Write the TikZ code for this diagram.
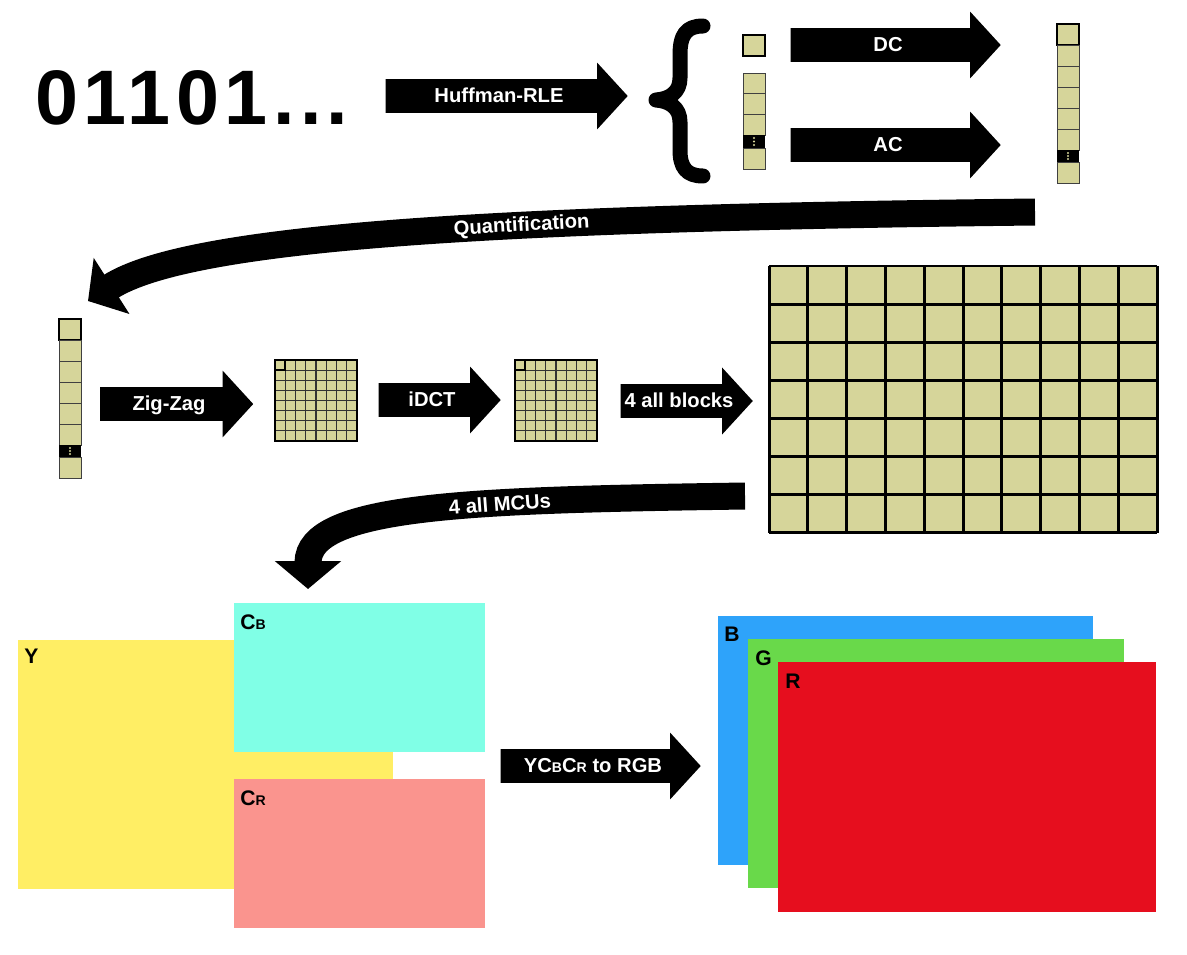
\documentclass[tikz,border=0pt]{standalone}
\usepackage{fontspec}
\setmainfont{Liberation Sans}
\usetikzlibrary{arrows.meta,shapes.arrows}
\definecolor{coefftan}{RGB}{214,213,154}
\definecolor{lumayellow}{RGB}{255,238,100}
\definecolor{cbcyan}{RGB}{128,255,230}
\definecolor{crsalmon}{RGB}{250,148,142}
\definecolor{chanblue}{RGB}{46,163,250}
\definecolor{changreen}{RGB}{105,217,74}
\definecolor{chanred}{RGB}{230,14,30}
\newcommand{\arrowfont}{\bfseries\fontsize{11.5}{13}\selectfont}
\newcommand{\smallidx}[1]{{\fontsize{8}{8}\selectfont #1}}

% column of coefficients: #1 = left x, #2 = top y (in px units)
\newcommand{\coeffcol}[2]{%
  \draw[black,line width=1.3pt,fill=coefftan] (#1,#2) rectangle ++(22,21);
  \foreach \k in {0,...,4}
    \draw[cellline,fill=coefftan] (#1,{#2+21+21*\k}) rectangle ++(22,21);
  \fill[black] (#1,{#2+126}) rectangle ++(22,12);
  \foreach \d in {3,6,9}
    \fill[coefftan] ({#1+11},{#2+126+\d}) circle (0.7pt);
  \draw[cellline,fill=coefftan] (#1,{#2+138}) rectangle ++(22,21);
}
% 8x8 block: #1 = left x, #2 = top y
\newcommand{\blockgrid}[2]{%
  \fill[coefftan] (#1,#2) rectangle ++(82,81);
  \foreach \k in {1,...,7}{%
    \draw[gridline] ({#1+10.25*\k},#2) -- ++(0,81);
    \draw[gridline] (#1,{#2+10.125*\k}) -- ++(82,0);
  }
  \draw[black,line width=1.6pt] (#1,#2) rectangle ++(82,81);
  \draw[black,line width=0.9pt] (#1,#2) rectangle ++(10.25,10.125);
}

\begin{document}
\begin{tikzpicture}[x=0.02cm,y=-0.02cm,>=Stealth,
  blockarrow/.style={single arrow,fill=black,text=white,font=\arrowfont,
    text height=0.3cm,text depth=0.06cm,inner ysep=0.15cm,inner xsep=2pt,
    single arrow head extend=0.33cm,single arrow tip angle=95},
  curvearrow/.style={line width=0.54cm,-{Triangle[width=1.3cm,length=0.56cm]}},
  curvelabel/.style={text=white,font=\arrowfont,inner sep=1pt},
  cellline/.style={black!75,line width=0.5pt},
  gridline/.style={black!80,line width=0.6pt},
  planelabel/.style={anchor=west,font=\bfseries\fontsize{12}{14}\selectfont,inner sep=0pt}]

\useasboundingbox (0,0) rectangle (1187,954);

%% ── bit stream and entropy decoding ─────────────────────────────────────────
\node[font=\bfseries\fontsize{44}{48}\selectfont\addfontfeature{LetterSpace=7}]
  (bits) at (192,98) {01101...};
\node[blockarrow,minimum height=4.84cm] (huff) at (499,96) {Huffman-RLE};

% curly brace
\draw[line width=0.3cm,line cap=round,line join=round]
  (703,26) .. controls (686,26) and (680,35) .. (680,55) -- (680,78)
  .. controls (680,92) and (670,99) .. (656,100)
  .. controls (670,101) and (680,108) .. (680,122) -- (680,150)
  .. controls (680,167) and (686,176) .. (703,176);

% DC coefficient and AC column
\draw[black,line width=1.3pt,fill=coefftan] (743,35) rectangle ++(22,21);
\foreach \k in {0,1,2}
  \draw[cellline,fill=coefftan] (743,{73+20.7*\k}) rectangle ++(22,20.7);
\fill[black] (743,135) rectangle ++(22,13);
\foreach \d in {3,6.5,10}
  \fill[coefftan] (754,{135+\d}) circle (0.7pt);
\draw[cellline,fill=coefftan] (743,148) rectangle ++(22,21);

\node[blockarrow,minimum height=4.2cm] (dc) at (888,45) {DC};
\node[blockarrow,minimum height=4.2cm] (ac) at (888,145) {AC};

% merged coefficient vector
\coeffcol{1057}{24}

%% ── dequantisation ──────────────────────────────────────────────────────────
\draw[curvearrow] (1035,212) .. controls (500,218) and (190,236) .. (88,301)
  node[pos=0.38,sloped,curvelabel] (quant) {Quantification};

\coeffcol{59}{319}

%% ── zig-zag, iDCT, all blocks ───────────────────────────────────────────────
\node[blockarrow,minimum height=3.06cm] (zigzag) at (169,404) {Zig-Zag};
\blockgrid{275}{360}
\node[blockarrow,minimum height=2.44cm] (idct) at (432,400) {iDCT};
\blockgrid{515}{360}
\node[blockarrow,minimum height=2.64cm] (allblocks) at (679,401) {4 all blocks};

% image made of blocks
\fill[coefftan] (769,266) rectangle (1157,533);
\foreach \i in {0,...,10}
  \draw[black,line width=1.7pt] ({769+38.8*\i},266) -- ++(0,267);
\foreach \j in {0,...,7}
  \draw[black,line width=1.7pt] (769,{266+38.14*\j}) -- ++(388,0);

%% ── all MCUs → colour planes ────────────────────────────────────────────────
\draw[curvearrow] (745,496) .. controls (470,500) and (308,505) .. (308,589)
  node[pos=0.35,sloped,curvelabel] (mcus) {4 all MCUs};

\fill[lumayellow] (18,640) rectangle (393,889);
\fill[cbcyan] (234,603) rectangle (485,752);
\fill[crsalmon] (234,779) rectangle (485,928);
\node[planelabel] (ylab) at (24,656) {Y};
\node[planelabel] (cblab) at (240,622) {C\smallidx{B}};
\node[planelabel] (crlab) at (240,798) {C\smallidx{R}};

\node[blockarrow,minimum height=4.0cm] (torgb) at (593,766)
  {YC\smallidx{B}C\smallidx{R} to RGB};

\fill[chanblue] (718,616) rectangle (1093,865);
\fill[changreen] (748,639) rectangle (1124,888);
\fill[chanred] (778,662) rectangle (1156,912);
\node[planelabel] (blab) at (724,634) {B};
\node[planelabel] (glab) at (755,658) {G};
\node[planelabel] (rlab) at (785,681) {R};

\end{tikzpicture}
\end{document}
